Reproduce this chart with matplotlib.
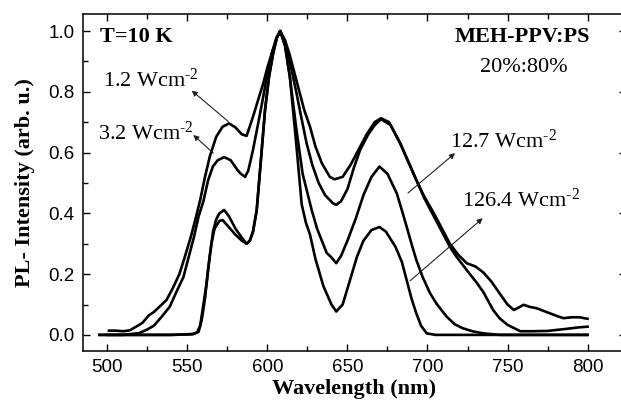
import matplotlib
matplotlib.use("Agg")
import matplotlib.pyplot as plt
from matplotlib.ticker import MultipleLocator

# ---------------- data ----------------
wl_1p2 = [501, 505, 510, 514, 518, 522, 526, 529, 533, 537, 541, 545, 548, 552, 555, 558,
          561, 564, 568, 572, 576, 580, 584, 587, 591, 594, 597.4, 600, 602.7, 605.5, 608,
          611, 614, 617, 620, 623, 626.6, 630, 634, 639, 642, 647, 652, 657, 662, 667, 671,
          676, 683, 688, 693, 698, 704, 709, 714, 719, 724.5, 730, 735, 740, 745, 750, 754,
          757, 760, 764, 768, 772, 776.5, 781, 785, 790, 795, 800]
pl_1p2 = [0.014, 0.014, 0.012, 0.015, 0.027, 0.04, 0.065, 0.075, 0.095, 0.115, 0.155, 0.20,
          0.25, 0.32, 0.38, 0.444, 0.52, 0.587, 0.652, 0.685, 0.696, 0.683, 0.660, 0.655,
          0.718, 0.77, 0.828, 0.88, 0.927, 0.975, 1.0, 0.97, 0.92, 0.86, 0.80, 0.74, 0.685,
          0.62, 0.565, 0.52, 0.512, 0.52, 0.56, 0.61, 0.66, 0.70, 0.713, 0.70, 0.63, 0.57,
          0.51, 0.455, 0.40, 0.35, 0.30, 0.265, 0.236, 0.225, 0.205, 0.175, 0.137, 0.10,
          0.082, 0.09, 0.099, 0.092, 0.088, 0.08, 0.071, 0.062, 0.055, 0.058, 0.058, 0.053]

wl_3p2 = [500, 510, 515, 520, 525, 529, 534, 539, 543, 547.5, 551, 554, 557, 560, 563, 566,
          569, 573, 577, 581, 583, 586, 588, 591, 594, 597.4, 600, 603, 606, 608, 611, 614,
          618, 621, 624.5, 628, 632, 636, 641, 643, 646, 650, 654, 658, 663, 667, 671, 677,
          683, 688, 693, 698, 704, 709, 714, 718, 725, 731, 735, 741, 745, 750, 758, 765,
          775, 787, 795, 800]
pl_3p2 = [0.0, 0.0, 0.003, 0.006, 0.018, 0.03, 0.06, 0.093, 0.14, 0.19, 0.26, 0.32, 0.39,
          0.44, 0.51, 0.555, 0.575, 0.585, 0.575, 0.545, 0.532, 0.52, 0.54, 0.609, 0.69,
          0.784, 0.86, 0.93, 0.98, 1.0, 0.96, 0.90, 0.80, 0.72, 0.63, 0.56, 0.50, 0.46,
          0.433, 0.428, 0.44, 0.48, 0.55, 0.61, 0.66, 0.69, 0.71, 0.69, 0.63, 0.57, 0.51,
          0.45, 0.39, 0.34, 0.29, 0.258, 0.21, 0.17, 0.14, 0.082, 0.055, 0.033, 0.012,
          0.012, 0.013, 0.02, 0.025, 0.027]

wl_12p7 = [495, 540, 553, 556, 558, 560, 562, 564, 566, 568, 570, 573, 576, 580, 584, 587,
           589, 591, 593.3, 596, 598.5, 601, 603.7, 606, 608, 611, 614, 618, 622, 627.7,
           631, 634, 637, 640, 643, 646, 650, 655, 660, 665, 670, 675, 680.8, 684, 687,
           690, 693, 697, 701.6, 706, 712, 717, 722, 728, 735, 745, 800]
pl_12p7 = [0.0, 0.0, 0.002, 0.008, 0.03, 0.10, 0.17, 0.26, 0.34, 0.38, 0.40, 0.411, 0.39,
           0.35, 0.32, 0.30, 0.31, 0.34, 0.41, 0.58, 0.74, 0.85, 0.93, 0.98, 1.0, 0.95,
           0.85, 0.68, 0.53, 0.41, 0.35, 0.31, 0.27, 0.255, 0.236, 0.26, 0.31, 0.38, 0.46,
           0.52, 0.554, 0.53, 0.466, 0.41, 0.356, 0.30, 0.247, 0.19, 0.137, 0.10, 0.06,
           0.035, 0.022, 0.012, 0.005, 0.0, 0.0]

wl_126p4 = [495, 540, 554, 557, 559, 561, 563, 565, 567, 570, 572, 575, 580, 584, 587, 589,
            591, 593.3, 596, 598.5, 601, 603.7, 606, 608, 611, 614, 618, 621.4, 624, 626.6,
            630, 635, 640, 643, 647, 651, 656, 660, 665, 670, 674, 680, 684, 687, 690, 693,
            696, 699.5, 705, 800]
pl_126p4 = [0.0, 0.0, 0.003, 0.01, 0.05, 0.12, 0.22, 0.30, 0.35, 0.375, 0.378, 0.36, 0.33,
            0.31, 0.30, 0.31, 0.34, 0.41, 0.58, 0.74, 0.85, 0.93, 0.98, 1.0, 0.955, 0.85,
            0.63, 0.43, 0.37, 0.33, 0.25, 0.16, 0.10, 0.077, 0.10, 0.17, 0.258, 0.31, 0.345,
            0.355, 0.34, 0.29, 0.24, 0.18, 0.12, 0.071, 0.03, 0.005, 0.0, 0.0]

x_ticks = [500, 550, 600, 650, 700, 750, 800]
y_ticks = [0.0, 0.2, 0.4, 0.6, 0.8, 1.0]

# ---------------- style ----------------
plt.rcParams["font.family"] = ["Liberation Serif", "DejaVu Serif"]
plt.rcParams["mathtext.fontset"] = "custom"
plt.rcParams["mathtext.rm"] = "Liberation Serif"
plt.rcParams["mathtext.default"] = "regular"

fig = plt.figure(figsize=(6.21, 4.01), dpi=100)
ax = fig.add_axes([0.1337, 0.1247, 1.008 - 0.1337, 0.9643 - 0.1247])

for wl, pl in [(wl_1p2, pl_1p2), (wl_3p2, pl_3p2), (wl_12p7, pl_12p7), (wl_126p4, pl_126p4)]:
    ax.plot(wl, pl, color="black", lw=1.9, solid_joinstyle="round")

ax.set_xlim(484.8, 824)
ax.set_ylim(-0.053, 1.055)
ax.set_xticks(x_ticks)
ax.set_yticks(y_ticks)
ax.set_yticklabels([f"{v:.1f}" for v in y_ticks])
ax.xaxis.set_minor_locator(MultipleLocator(25))
ax.yaxis.set_minor_locator(MultipleLocator(0.1))
ax.tick_params(which="both", direction="in", top=True, right=True, width=1.0)
ax.tick_params(which="major", length=5, pad=6)
ax.tick_params(which="minor", length=3.5)
for lab in ax.get_xticklabels() + ax.get_yticklabels():
    lab.set_fontfamily("Liberation Sans")
    lab.set_fontsize(13.5)
for s in ax.spines.values():
    s.set_linewidth(1.1)

ax.set_xlabel("Wavelength (nm)", fontsize=16, fontweight="bold", labelpad=2)
ax.set_ylabel("PL- Intensity (arb. u.)", fontsize=16, fontweight="bold", labelpad=10)

# ---------------- annotations ----------------
ax.text(495.6, 0.965, "T=10 K", fontsize=16, fontweight="bold", va="baseline", ha="left")
ax.text(759.3, 0.965, "MEH-PPV:PS", fontsize=16, fontweight="bold", va="baseline", ha="center")
ax.text(760.2, 0.866, "20%:80%", fontsize=16, va="baseline", ha="center")

labels = [
    (r"1.2 Wcm$^{\text{-2}}$", (497.3, 0.816), (552.7, 0.804), (575.6, 0.702)),
    (r"3.2 Wcm$^{\text{-2}}$", (494.4, 0.641), (553.7, 0.658), (566.2, 0.598)),
    (r"12.7 Wcm$^{\text{-2}}$", (714.0, 0.616), (717.2, 0.598), (687.8, 0.467)),
    (r"126.4 Wcm$^{\text{-2}}$", (721.4, 0.422), (734.5, 0.384), (689.1, 0.178)),
]
for txt, tpos, head, tail in labels:
    ax.text(tpos[0], tpos[1], txt, fontsize=16, va="baseline", ha="left")
    ax.annotate("", xy=head, xytext=tail,
                arrowprops=dict(arrowstyle="-|>", lw=0.8, color="#222222",
                                mutation_scale=8, shrinkA=0, shrinkB=0))

fig.savefig("out.png", dpi=100)
